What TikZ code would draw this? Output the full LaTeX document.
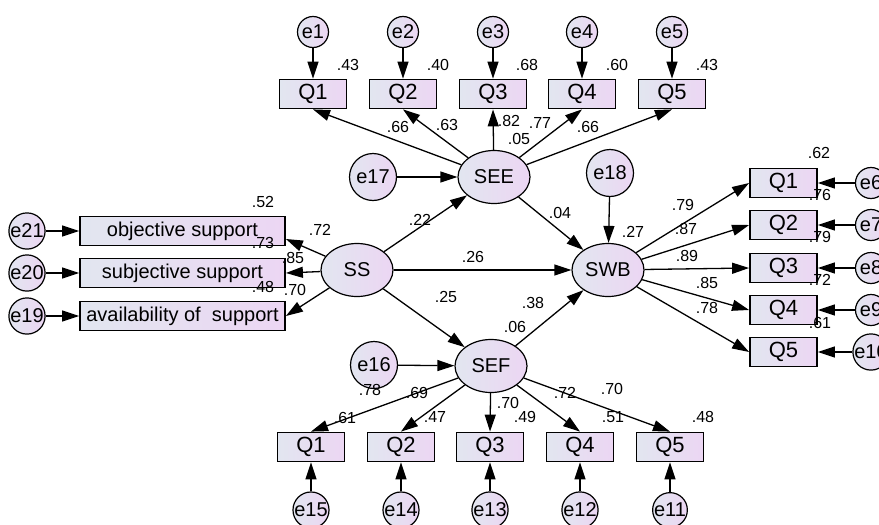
\documentclass[tikz,border=0pt]{standalone}
\usepackage{fontspec}
\setmainfont{Liberation Sans}
\usetikzlibrary{arrows.meta,shapes.geometric}
\definecolor{amosleft}{RGB}{226,230,240}
\definecolor{amosright}{RGB}{236,214,243}
\tikzset{
  obs/.style={rectangle,draw=black,line width=1.8pt,left color=amosleft,right color=amosright,minimum width=67pt,minimum height=29pt,inner sep=0pt,font=\fontsize{22}{22}\selectfont},
  longobs/.style={obs,minimum width=205pt,font=\fontsize{20}{20}\selectfont},
  lat/.style={ellipse,draw=black,line width=1.2pt,left color=amosleft,right color=amosright,minimum width=72pt,minimum height=53pt,inner sep=0pt,font=\fontsize{20}{20}\selectfont},
  err/.style={circle,draw=black,line width=1.2pt,left color=amosleft,right color=amosright,minimum size=31pt,inner sep=0pt,font=\fontsize{20}{20}\selectfont},
  bigerr/.style={err,minimum size=47pt},
  coef/.style={inner sep=0pt,font=\fontsize{16}{16}\selectfont}
}

\begin{document}
\begin{tikzpicture}
[x=1pt,y=-1pt,->,>={Triangle[length=17pt,width=11pt]},line width=1.3pt]
\useasboundingbox (0,0) rectangle (879,525);
% latent variables
\node[lat] (ss) at (357,270) {SS};
\node[lat] (see) at (494,177) {SEE};
\node[lat] (swb) at (608,270) {SWB};
\node[lat] (sef) at (491,366) {SEF};
\node[bigerr] (e17) at (373,177) {e17};
\node[bigerr] (e18) at (610,173) {e18};
\node[bigerr] (e16) at (374,365) {e16};
% SEE items
\node[err] (e1) at (313,32) {e1};
\node[err] (e2) at (403,32) {e2};
\node[err] (e3) at (493,32) {e3};
\node[err] (e4) at (582,32) {e4};
\node[err] (e5) at (672,32) {e5};
\node[obs] (a1) at (313,94) {Q1};
\node[obs] (a2) at (403,94) {Q2};
\node[obs] (a3) at (493,94) {Q3};
\node[obs] (a4) at (582,94) {Q4};
\node[obs] (a5) at (672,94) {Q5};
% SS items
\node[longobs] (obj) at (182.5,231) {objective support};
\node[longobs] (subj) at (182.5,273) {subjective support};
\node[longobs] (avail) at (182.5,316) {availability of\ \ support};
\node[err] (e21) at (27,231) {e21};
\node[err] (e20) at (27,273) {e20};
\node[err] (e19) at (27,316) {e19};
% SWB items
\node[obs] (b1) at (783.5,183) {Q1};
\node[obs] (b2) at (783.5,225) {Q2};
\node[obs] (b3) at (783.5,268) {Q3};
\node[obs] (b4) at (783.5,310) {Q4};
\node[obs] (b5) at (783.5,352) {Q5};
\node[err] (e6) at (871,183) {e6};
\node[err] (e7) at (871,225) {e7};
\node[err] (e8) at (871,268) {e8};
\node[err] (e9) at (871,310) {e9};
\node[err] (e10) at (871,352) {e10};
% SEF items
\node[obs] (c1) at (311,447) {Q1};
\node[obs] (c2) at (401,447) {Q2};
\node[obs] (c3) at (490,447) {Q3};
\node[obs] (c4) at (580,447) {Q4};
\node[obs] (c5) at (670,447) {Q5};
\node[err] (e15) at (311,510) {e15};
\node[err] (e14) at (401,510) {e14};
\node[err] (e13) at (490,510) {e13};
\node[err] (e12) at (580,510) {e12};
\node[err] (e11) at (670,510) {e11};

% paths
\draw (ss) -- (see);
\draw (ss) -- (swb);
\draw (ss) -- (sef);
\draw (see) -- (swb);
\draw (sef) -- (swb);
\draw (e17) -- (see);
\draw (e18) -- (swb);
\draw (e16) -- (sef);
\draw (ss) -- ([yshift=-8pt]obj.east);
\draw (ss) -- (subj.east);
\draw (ss) -- (avail.east);
\draw (e21) -- (obj);
\draw (e20) -- (subj);
\draw (e19) -- (avail);
\draw (see) -- (a1.south);
\draw (see) -- (a2.south);
\draw (see) -- (a3.south);
\draw (see) -- (a4.south);
\draw (see) -- (a5.south);
\draw (e1) -- (a1);
\draw (e2) -- (a2);
\draw (e3) -- (a3);
\draw (e4) -- (a4);
\draw (e5) -- (a5);
\draw (swb) -- (b1.west);
\draw (swb) -- (b2.west);
\draw (swb) -- (b3.west);
\draw (swb) -- (b4.west);
\draw (swb) -- (b5.west);
\draw (e6) -- (b1);
\draw (e7) -- (b2);
\draw (e8) -- (b3);
\draw (e9) -- (b4);
\draw (e10) -- (b5);
\draw (sef) -- (c1.north);
\draw (sef) -- (c2.north);
\draw (sef) -- (c3.north);
\draw (sef) -- (c4.north);
\draw (sef) -- (c5.north);
\draw (e15) -- (c1);
\draw (e14) -- (c2);
\draw (e13) -- (c3);
\draw (e12) -- (c4);
\draw (e11) -- (c5);

% estimates
\node[coef] (ra1) at (348,65) {.43};
\node[coef] (ra2) at (438,65) {.40};
\node[coef] (ra3) at (527,65) {.68};
\node[coef] (ra4) at (617,65) {.60};
\node[coef] (ra5) at (707,65) {.43};
\node[coef] (pa1) at (398,127) {.66};
\node[coef] (pa2) at (447,125) {.63};
\node[coef] (pa3) at (509,121) {.82};
\node[coef] (pa4) at (540,123) {.77};
\node[coef] (pa5) at (588,127) {.66};
\node[coef] (rsee) at (519,139) {.05};
\node[coef] (robj) at (263,202) {.52};
\node[coef] (pobj) at (320,230) {.72};
\node[coef] (rsubj) at (263,243) {.73};
\node[coef] (psubj) at (293,258) {.85};
\node[coef] (ravail) at (263,287) {.48};
\node[coef] (pavail) at (295,290) {.70};
\node[coef] (pssee) at (420,220) {.22};
\node[coef] (pseeswb) at (560,213) {.04};
\node[coef] (psswb) at (473,257) {.26};
\node[coef] (pssef) at (446,297) {.25};
\node[coef] (psefswb) at (533,303) {.38};
\node[coef] (rsef) at (515,327) {.06};
\node[coef] (rswb) at (633,232) {.27};
\node[coef] (rb1) at (819,153) {.62};
\node[coef] (rb2) at (820,195) {.76};
\node[coef] (rb3) at (820,237) {.79};
\node[coef] (rb4) at (820,280) {.72};
\node[coef] (rb5) at (820,323) {.61};
\node[coef] (pb1) at (683,205) {.79};
\node[coef] (pb2) at (686,229) {.87};
\node[coef] (pb3) at (687,256) {.89};
\node[coef] (pb4) at (707,283) {.85};
\node[coef] (pb5) at (707,308) {.78};
\node[coef] (pc1) at (370,390) {.78};
\node[coef] (pc2) at (417,393) {.69};
\node[coef] (pc3) at (508,403) {.70};
\node[coef] (pc4) at (565,393) {.72};
\node[coef] (pc5) at (612,389) {.70};
\node[coef] (rc1) at (345,418) {.61};
\node[coef] (rc2) at (435,417) {.47};
\node[coef] (rc3) at (525,417) {.49};
\node[coef] (rc4) at (613,417) {.51};
\node[coef] (rc5) at (703,417) {.48};
\end{tikzpicture}
\end{document}
